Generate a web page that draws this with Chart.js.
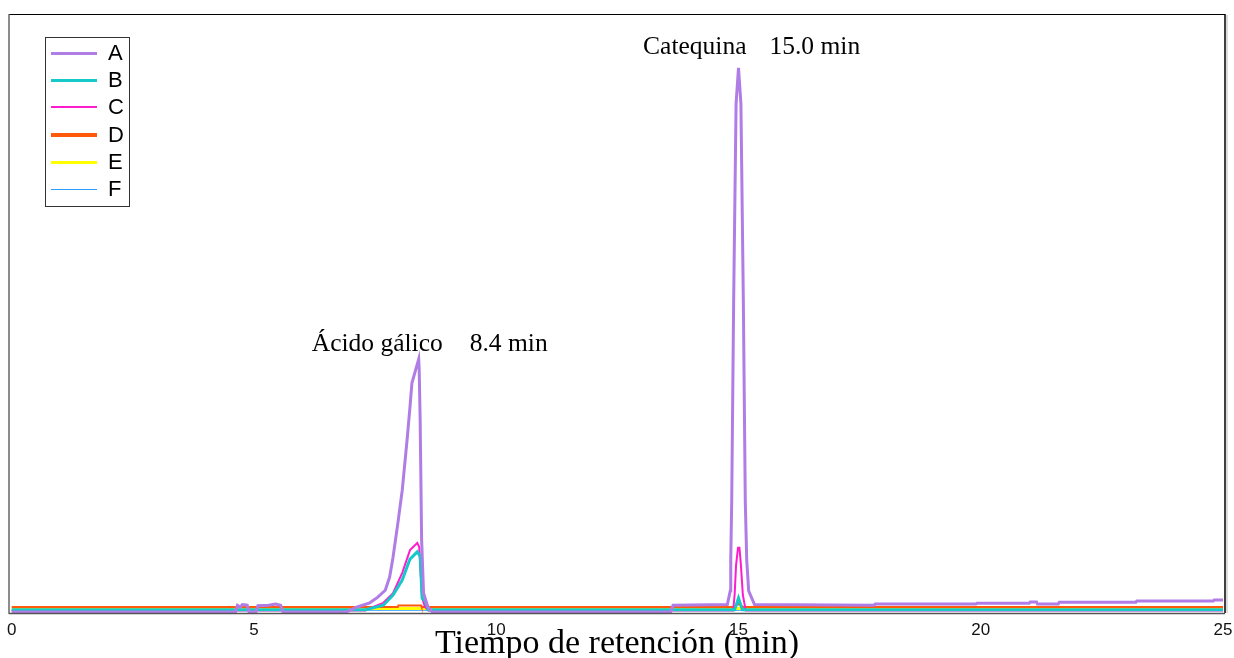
<!DOCTYPE html>
<html lang="es">
<head>
<meta charset="utf-8">
<title>Cromatograma</title>
<script src="https://cdn.jsdelivr.net/npm/chart.js"></script>
<style>
  html, body { margin: 0; padding: 0; background: #fff; }
  #wrap { width: 1234px; height: 658px; }
</style>
</head>
<body>
<div id="wrap"><canvas id="cromatograma" width="1234" height="658"></canvas></div>
<script>
// Muestras y estilo de cada traza
const muestras = ["A", "B", "C", "D", "E", "F"];
const colores = ["#b07de6", "#16c8c8", "#ff1ccf", "#ff5a0a", "#ffff00", "#2e9cff"];
const grosores = [3, 3, 2, 2, 3, 1];
const grosoresLeyenda = [3, 3, 2, 4, 3, 1];

// Tiempo de retención (min) y señal de cada muestra
const tiempoA = [0, 4.62, 4.66, 4.72, 4.76, 4.86, 4.9, 5.04, 5.08, 5.3, 5.45, 5.55, 5.6,
  6.9, 7.13, 7.39, 7.55, 7.71, 7.8, 7.87, 7.97, 8.06, 8.16, 8.22, 8.26,
  8.4, 8.41, 8.43, 8.46, 8.5, 8.59, 8.68,
  13.6, 13.65, 14.77, 14.83, 14.84, 14.86, 14.9, 14.95,
  15.0, 15.05, 15.1, 15.14, 15.17, 15.21, 15.33,
  17.8, 17.82, 19.9, 19.92, 21.0, 21.02, 21.15, 21.17, 21.6, 21.62, 23.2, 23.22, 24.8, 24.82, 25];
const senalA = [0.15, 0.15, 1.3, 1.0, 1.4, 1.3, 0.15, 0.15, 1.2, 1.3, 1.5, 1.3, 0.15,
  0.15, 1.0, 1.7, 2.6, 3.8, 6.0, 9.3, 15.0, 20.5, 28.9, 34.4, 38.4,
  42.4, 40.6, 32.2, 12.2, 3.3, 1.0, 0.15,
  0.15, 1.29, 1.4, 3.7, 8.8, 18.7, 52, 85,
  91, 85, 52, 18.7, 8.8, 3.7, 1.4,
  1.3, 1.5, 1.5, 1.62, 1.62, 1.84, 1.84, 1.5, 1.5, 1.79, 1.79, 2.0, 2.0, 2.17, 2.17];

const tiempoB = [0, 7.3, 7.67, 7.87, 8.06, 8.22, 8.37, 8.43, 8.47, 8.53, 8.6, 14.92, 14.96, 15.0, 15.04, 15.08, 25];
const senalB = [0.55, 0.55, 1.3, 3.0, 5.5, 9.0, 10.2, 9.5, 2.5, 2.0, 0.55, 0.55, 1.5, 2.5, 1.5, 0.55, 0.55];

const tiempoC = [0, 7.3, 7.46, 7.67, 7.87, 8.06, 8.22, 8.37, 8.41, 8.47, 8.53, 8.6,
  14.89, 14.92, 14.95, 14.99, 15.02, 15.05, 15.09, 15.15, 25];
const senalC = [0.4, 0.4, 1.0, 1.7, 3.3, 6.7, 10.5, 11.7, 11.0, 2.5, 1.0, 0.4,
  0.4, 3, 8, 10.9, 10.9, 8, 3, 0.4, 0.4];

const tiempoD = [0, 7.97, 7.98, 8.45, 8.46, 14.9, 15.0, 15.1, 25];
const senalD = [1.0, 1.0, 1.25, 1.25, 1.0, 1.0, 1.5, 1.0, 1.0];

const tiempoE = [0, 25];
const senalE = [0.75, 0.75];

const tiempoF = [0, 25];
const senalF = [0.45, 0.45];

// Picos identificados (sobre la muestra A)
const picosNombre = ["Ácido gálico", "Catequina"];
const picosTiempo = [8.4, 15.0];

// Marcas del eje X
const ticksX = [0, 5, 10, 15, 20, 25];

const tiempos = [tiempoA, tiempoB, tiempoC, tiempoD, tiempoE, tiempoF];
const senales = [senalA, senalB, senalC, senalD, senalE, senalF];

const datasets = muestras.map((nombre, i) => ({
  label: nombre,
  data: tiempos[i].map((t, j) => ({ x: t, y: senales[i][j] })),
  borderColor: colores[i],
  backgroundColor: colores[i],
  borderWidth: grosores[i],
  pointRadius: 0,
  tension: 0,
  fill: false,
}));

const SERIF = "'Liberation Serif', 'Times New Roman', serif";
const SANS = "'Liberation Sans', Arial, sans-serif";

// marco del area de graficado
const marco = {
  id: "marco",
  afterDatasetsDraw(chart) {
    const { ctx, chartArea: a } = chart;
    ctx.save();
    ctx.lineWidth = 1;
    ctx.strokeStyle = "#000";
    ctx.beginPath();
    ctx.moveTo(a.left, a.top + 0.5);
    ctx.lineTo(a.right, a.top + 0.5);
    ctx.stroke();
    ctx.lineWidth = 1.5;
    ctx.beginPath();
    ctx.moveTo(a.right, a.top);
    ctx.lineTo(a.right, a.bottom);
    ctx.stroke();
    ctx.strokeStyle = "#d0d0d0";
    ctx.beginPath();
    ctx.moveTo(a.right + 2, a.top + 1);
    ctx.lineTo(a.right + 2, a.bottom);
    ctx.stroke();
    ctx.strokeStyle = "#666";
    ctx.beginPath();
    ctx.moveTo(a.left, a.top);
    ctx.lineTo(a.left, a.bottom + 1);
    ctx.stroke();
    ctx.strokeStyle = "#555";
    ctx.beginPath();
    ctx.moveTo(a.left, a.bottom + 0.5);
    ctx.lineTo(a.right, a.bottom + 0.5);
    ctx.stroke();
    ctx.restore();
  },
};

// nombre del compuesto y tiempo encima de cada pico
const etiquetasPicos = {
  id: "etiquetasPicos",
  afterDatasetsDraw(chart) {
    const { ctx, scales: { x, y } } = chart;
    const dx = [24, 8];
    const dy = [-8, -14];
    const hueco = [27, 23];
    ctx.save();
    ctx.font = "25.5px " + SERIF;
    ctx.fillStyle = "#000";
    ctx.textBaseline = "alphabetic";
    picosNombre.forEach((nombre, k) => {
      const t = picosTiempo[k];
      const h = senalA[tiempoA.indexOf(t)];
      const px = x.getPixelForValue(t);
      const py = y.getPixelForValue(h) + dy[k];
      ctx.textAlign = "right";
      ctx.fillText(nombre, px + dx[k], py);
      ctx.textAlign = "left";
      ctx.fillText(t.toFixed(1) + " min", px + dx[k] + hueco[k], py);
    });
    ctx.restore();
  },
};

// leyenda en caja dentro del area, arriba a la izquierda
const leyendaCaja = {
  id: "leyendaCaja",
  afterDraw(chart) {
    const { ctx } = chart;
    const x0 = 45, y0 = 37, w = 84, h = 169;
    ctx.save();
    ctx.fillStyle = "#fff";
    ctx.fillRect(x0, y0, w, h);
    ctx.strokeStyle = "#333";
    ctx.lineWidth = 1;
    ctx.strokeRect(x0 + 0.5, y0 + 0.5, w, h);
    ctx.font = "22px " + SANS;
    ctx.textBaseline = "middle";
    ctx.textAlign = "left";
    chart.data.datasets.forEach((ds, i) => {
      const yy = Math.round(53 + i * 27.2);
      const g = grosoresLeyenda[i];
      ctx.strokeStyle = ds.borderColor;
      ctx.lineWidth = g;
      ctx.beginPath();
      ctx.moveTo(51, yy + (g % 2 ? 0.5 : 0));
      ctx.lineTo(97, yy + (g % 2 ? 0.5 : 0));
      ctx.stroke();
      ctx.fillStyle = "#000";
      ctx.fillText(ds.label, 108, yy + 1);
    });
    ctx.restore();
  },
};

const ctx = document.getElementById("cromatograma").getContext("2d");
const cromatograma = new Chart(ctx, {
  type: "line",
  data: { datasets: datasets },
  options: {
    responsive: false,
    animation: false,
    devicePixelRatio: 1,
    layout: { padding: { left: 9, right: 9, top: 14, bottom: 0 } },
    plugins: {
      legend: { display: false },
      tooltip: { enabled: false },
    },
    scales: {
      x: {
        type: "linear",
        min: -0.056,
        max: 25.041,
        grid: { display: false, drawTicks: false },
        border: { display: false },
        afterBuildTicks: (s) => { s.ticks = ticksX.map((v) => ({ value: v })); },
        afterFit: (s) => {
          s.height = 45;
          s.paddingLeft = 0;
          s.paddingRight = 0;
        },
        ticks: {
          padding: 7,
          color: "#111",
          maxRotation: 0,
          autoSkip: false,
          font: { family: SANS, size: 17 },
        },
        title: {
          display: true,
          text: "Tiempo de retención (min)",
          color: "#000",
          font: { family: SERIF, size: 34, lineHeight: 1 },
          padding: { top: 0, bottom: -3 },
        },
      },
      y: {
        display: false,
        min: 0,
        max: 100,
      },
    },
  },
  plugins: [marco, etiquetasPicos, leyendaCaja],
});
</script>
</body>
</html>
